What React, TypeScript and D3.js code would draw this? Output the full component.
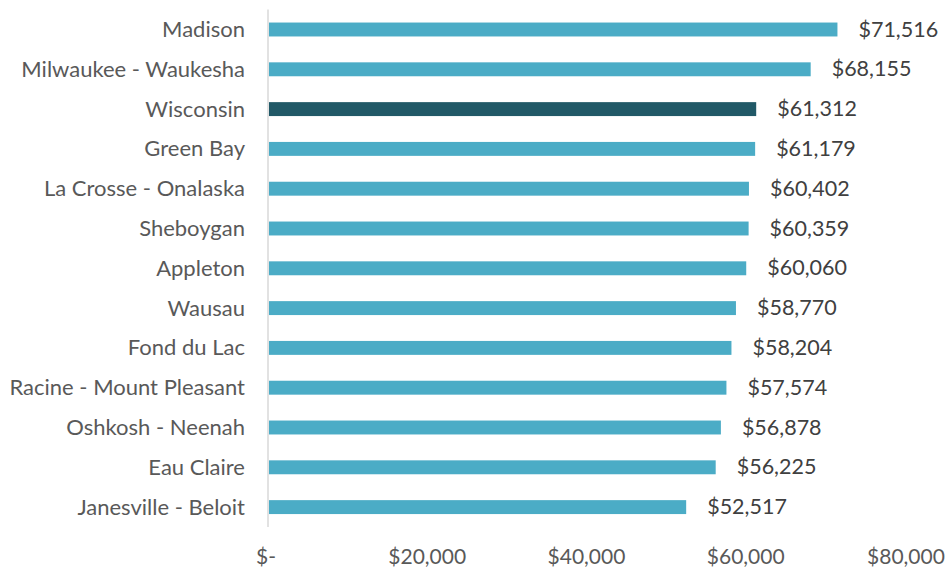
import React from "react";
import * as d3 from "d3";

const categories = [
  "Madison",
  "Milwaukee - Waukesha",
  "Wisconsin",
  "Green Bay",
  "La Crosse - Onalaska",
  "Sheboygan",
  "Appleton",
  "Wausau",
  "Fond du Lac",
  "Racine - Mount Pleasant",
  "Oshkosh - Neenah ",
  "Eau Claire",
  "Janesville - Beloit",
];
const values = [71516, 68155, 61312, 61179, 60402, 60359, 60060, 58770, 58204, 57574, 56878, 56225, 52517];
const highlight = "Wisconsin";
const tickValues = [0, 20000, 40000, 60000, 80000];
const tickLabels = ["$-", "$20,000", "$40,000", "$60,000", "$80,000"];

const W = 945;
const H = 571;
const FONT = "Lato, 'Open Sans', sans-serif";

export default function App() {
  const x = d3.scaleLinear().domain([0, 80000]).range([268, 905]);
  const y = d3.scaleBand<string>().domain(categories).range([9.6, 527]).paddingInner(0.65).paddingOuter(0.325);
  const fmt = d3.format(",");
  return (
    <svg width={W} height={H} style={{ position: "absolute", left: 0, top: 0, background: "#fff" }}>
      <line x1={x(0)} x2={x(0)} y1={9.6} y2={527} stroke="#d9d9d9" strokeWidth={1.5} />
      {categories.map((c, i) => {
        const yy = y(c)!;
        const cy = yy + y.bandwidth() / 2 - 1;
        return (
          <g key={c}>
            <rect
              x={x(0) + 1}
              y={yy}
              width={x(values[i]) - x(0) - 1}
              height={y.bandwidth()}
              fill={c === highlight ? "#215967" : "#4BACC6"}
            />
            <text x={245} y={cy} textAnchor="end" dominantBaseline="central" fontFamily={FONT} fontSize={22} fill="#595959">
              {c}
            </text>
            <text x={x(values[i]) + 21} y={cy} dominantBaseline="central" fontFamily={FONT} fontSize={21.5} fill="#404040">
              {"$" + fmt(values[i])}
            </text>
          </g>
        );
      })}
      {tickValues.map((t, i) => (
        <text key={t} x={x(t) - (t === 0 ? 2 : 0) + (t === 80000 ? 1 : 0)} y={555} textAnchor="middle" dominantBaseline="central" fontFamily={FONT} fontSize={21} fill="#595959">
          {tickLabels[i]}
        </text>
      ))}
    </svg>
  );
}
